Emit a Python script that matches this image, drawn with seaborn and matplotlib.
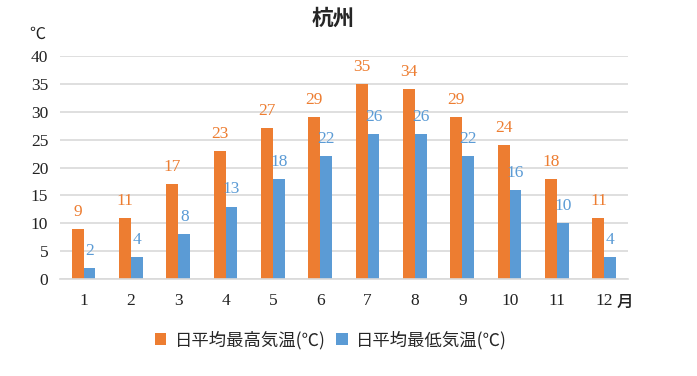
import matplotlib
matplotlib.use('Agg')
import matplotlib.pyplot as plt
import pandas as pd
import seaborn as sns

# data
months = ['1', '2', '3', '4', '5', '6', '7', '8', '9', '10', '11', '12']
high_temp = [9, 11, 17, 23, 27, 29, 35, 34, 29, 24, 18, 11]
low_temp = [2, 4, 8, 13, 18, 22, 26, 26, 22, 16, 10, 4]
series_names = ['日平均最高気温(℃)', '日平均最低気温(℃)']

orange = '#ED7D31'
blue = '#5B9BD5'
grid_color = '#D9D9D9'
cjk = ['Noto Sans CJK JP', 'DejaVu Sans']
serif = ['Liberation Serif', 'DejaVu Serif']

df = pd.DataFrame({
    'month': months * 2,
    'temp': high_temp + low_temp,
    'series': [series_names[0]] * len(months) + [series_names[1]] * len(months),
})

sns.set_style('white')
plt.rcParams['font.family'] = cjk

fig = plt.figure(figsize=(6.97, 3.76), dpi=100)
ax = fig.add_axes([0.086, 0.258, 0.815, 0.593])

sns.barplot(data=df, x='month', y='temp', hue='series', order=months,
            hue_order=series_names, palette=[orange, blue], width=0.5,
            gap=0, saturation=1, errorbar=None, linewidth=0, ax=ax,
            legend=True)

# value labels above each bar
for cont, col in zip(ax.containers, [orange, blue]):
    ax.bar_label(cont, padding=6.5, color=col, fontsize=12.5, family=serif)

ax.set_ylim(0, 40)
ax.set_yticks(range(0, 41, 5))
ax.yaxis.grid(True, color=grid_color, linewidth=1.2)
ax.set_axisbelow(True)
ax.set_xlabel('')
ax.set_ylabel('')
for s in ['top', 'right', 'left']:
    ax.spines[s].set_visible(False)
ax.spines['bottom'].set_color(grid_color)
ax.spines['bottom'].set_linewidth(1.2)
ax.tick_params(axis='both', length=0, labelsize=12.5, colors='#222222')
ax.tick_params(axis='x', pad=10)
ax.tick_params(axis='y', pad=8.5)
for lab in ax.get_xticklabels() + ax.get_yticklabels():
    lab.set_family(serif)

# month suffix next to the last tick label
ax.annotate('月', xy=(11, 0), xycoords='data', xytext=(8.5, -16.5),
            textcoords='offset points', ha='left', va='center',
            fontsize=12, fontweight='medium', family=cjk, color='#222222')

fig.text(0.054, 0.91, '℃', ha='center', va='center', fontsize=11.5,
         family=cjk, color='#222222')
fig.text(0.478, 0.952, '杭州', ha='center', va='center', fontsize=15.5,
         fontweight='bold', family=cjk)

handles, labels = ax.get_legend_handles_labels()
ax.legend(handles, labels, loc='center', bbox_to_anchor=(0.475, 0.096),
          bbox_transform=fig.transFigure, ncol=2, frameon=False,
          handlelength=0.65, handleheight=0.65, handletextpad=0.5,
          columnspacing=0.6, prop={'family': cjk, 'size': 12.5})

plt.savefig('out.png', dpi=100)
